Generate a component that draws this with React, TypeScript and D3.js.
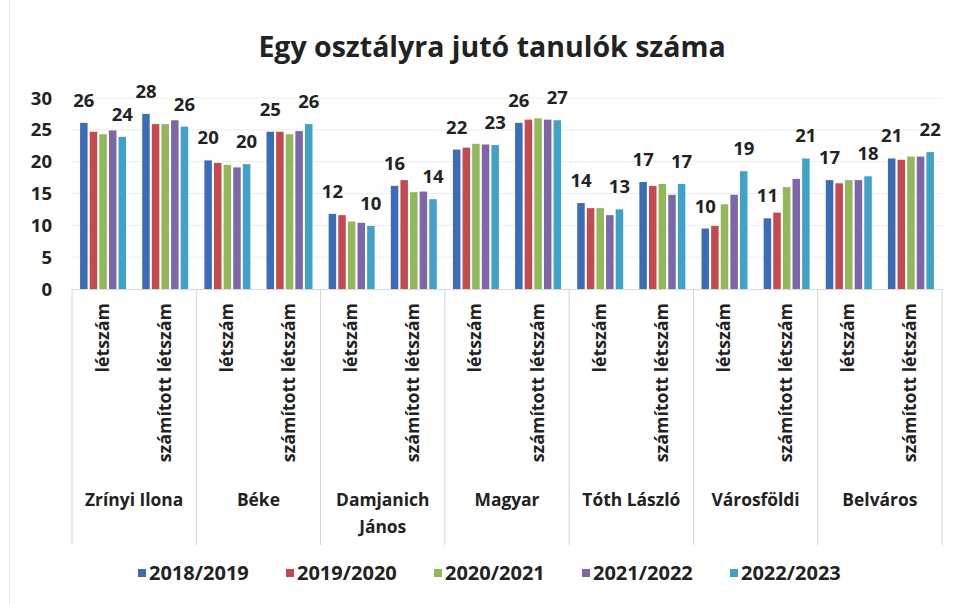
import React from "react";
import * as d3 from "d3";

const title = "Egy osztályra jutó tanulók száma";
const schools = ["Zrínyi Ilona", "Béke", "Damjanich János", "Magyar", "Tóth László", "Városföldi", "Belváros"];
const subCategories = ["létszám", "számított létszám"];
const seriesNames = ["2018/2019", "2019/2020", "2020/2021", "2021/2022", "2022/2023"];
const seriesColors = ["#3B6DB7", "#C44A4F", "#92B85A", "#7E67A8", "#3FA2C8"];

const s2018 = [26.1, 27.5, 20.2, 24.7, 11.8, 16.2, 21.9, 26.1, 13.5, 16.8, 9.5, 11.1, 17.1, 20.5];
const s2019 = [24.7, 25.9, 19.8, 24.7, 11.6, 17.1, 22.2, 26.6, 12.7, 16.2, 9.9, 12.0, 16.6, 20.3];
const s2020 = [24.3, 25.9, 19.5, 24.3, 10.6, 15.2, 22.8, 26.8, 12.7, 16.5, 13.3, 16.0, 17.1, 20.8];
const s2021 = [24.9, 26.5, 19.1, 24.8, 10.4, 15.3, 22.7, 26.6, 11.6, 14.8, 14.8, 17.3, 17.1, 20.8];
const s2022 = [23.9, 25.5, 19.6, 25.9, 9.9, 14.1, 22.6, 26.5, 12.5, 16.5, 18.5, 20.5, 17.7, 21.5];
const seriesValues = [s2018, s2019, s2020, s2021, s2022];
const labeledSeries = [0, 4];
const yTicks = [0, 5, 10, 15, 20, 25, 30];

const W = 955;
const H = 604;
const FONT = "'Open Sans', sans-serif";
const TEXT = "#222";

export default function App() {
  const catKeys = d3.range(schools.length * subCategories.length).map(String);
  const plotL = 72;
  const plotR = 942;
  const y0 = 289;
  const yTop = 98;

  const x0 = d3.scaleBand<string>().domain(catKeys).range([plotL, plotR]).paddingInner(0.26).paddingOuter(0.13);
  const x1 = d3.scaleBand<string>().domain(seriesNames).range([0, x0.bandwidth()]).paddingInner(0.22);
  const y = d3.scaleLinear().domain([0, 30]).range([y0, yTop]);
  const schoolX = d3.scaleBand<string>().domain(schools).range([plotL, plotR]);

  const legendStart = 138;
  const legendStep = 148;

  return (
    <svg width={W} height={H} style={{ position: "absolute", left: 0, top: 0, background: "#fff" }} fontFamily={FONT}>
      <rect x={0} y={0} width={W} height={H} fill="#fff" />
      <line x1={9.5} x2={9.5} y1={0} y2={H} stroke="#e8e8e8" />
      <text x={492} y={57} textAnchor="middle" fontSize={28.5} fontWeight={700} fill={TEXT}>{title}</text>

      {yTicks.filter((t) => t > 0).map((t) => (
        <line key={"g" + t} x1={plotL} x2={plotR} y1={y(t)} y2={y(t)} stroke="#ededed" strokeWidth={1} />
      ))}
      {yTicks.map((t) => (
        <text key={"t" + t} x={52} y={y(t)} dy="0.36em" textAnchor="end" fontSize={18.5} fontWeight={700} fill={TEXT}>{t}</text>
      ))}

      {catKeys.map((k, ci) => (
        <g key={"c" + k} transform={`translate(${x0(k)},0)`}>
          {seriesNames.map((s, si) => {
            const v = seriesValues[si][ci];
            return (
              <rect key={s} x={x1(s)} y={y(v)} width={x1.bandwidth()} height={y0 - y(v)} fill={seriesColors[si]} />
            );
          })}
          {labeledSeries.map((si) => {
            const s = seriesNames[si];
            const v = seriesValues[si][ci];
            return (
              <text key={"l" + s} x={(x1(s) as number) + x1.bandwidth() / 2} y={y(v) - 16} textAnchor="middle" fontSize={18.5} fontWeight={700} fill={TEXT}>{Math.round(v)}</text>
            );
          })}
        </g>
      ))}

      <line x1={plotL} x2={plotR} y1={y0 + 0.5} y2={y0 + 0.5} stroke="#d9d9d9" />
      {d3.range(schools.length + 1).map((i) => {
        const xx = i < schools.length ? (schoolX(schools[i]) as number) : plotR;
        return <line key={"sep" + i} x1={xx} x2={xx} y1={y0} y2={545} stroke="#d4d4d4" />;
      })}

      {catKeys.map((k, ci) => {
        const cx = (x0(k) as number) + x0.bandwidth() / 2 - 1.5;
        return (
          <text key={"r" + k} transform={`translate(${cx},303) rotate(-90)`} textAnchor="end" dominantBaseline="central" fontSize={17.8} fontWeight={700} fill={TEXT}>
            {subCategories[ci % 2]}
          </text>
        );
      })}

      {schools.map((s) => {
        const cx = (schoolX(s) as number) + schoolX.bandwidth() / 2;
        const parts = s === "Damjanich János" ? ["Damjanich", "János"] : [s];
        return (
          <text key={"s" + s} x={cx} textAnchor="middle" fontSize={17.4} fontWeight={700} fill={TEXT}>
            {parts.map((p, i) => (
              <tspan key={p} x={cx} y={506 + i * 27}>{p}</tspan>
            ))}
          </text>
        );
      })}

      {seriesNames.map((s, i) => {
        const lx = legendStart + i * legendStep;
        return (
          <g key={"lg" + s}>
            <rect x={lx} y={569} width={8} height={8} fill={seriesColors[i]} />
            <text x={lx + 11} y={573} dy="0.36em" fontSize={20} fontWeight={700} fill={TEXT}>{s}</text>
          </g>
        );
      })}
    </svg>
  );
}
